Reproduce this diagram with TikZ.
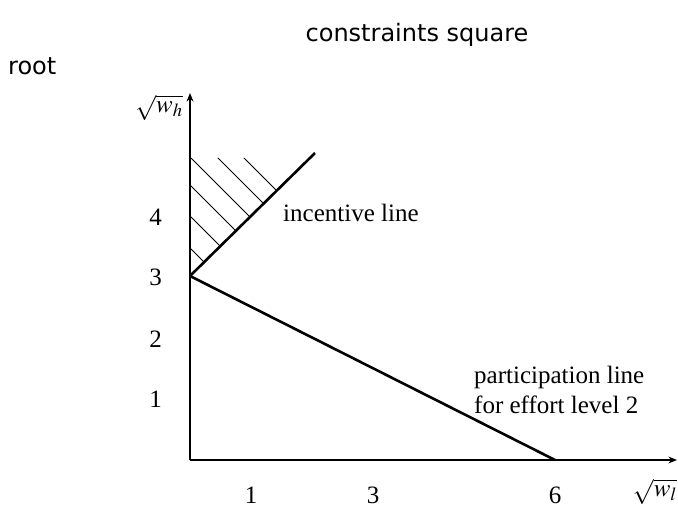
\documentclass[tikz,border=0pt]{standalone}
\usepackage{mathptmx}
\usepackage[no-math]{fontspec}
\setmainfont{Liberation Serif}
\newfontfamily\titlefont{DejaVu Sans}
\usetikzlibrary{arrows.meta}
\tikzset{
  >={Stealth[length=3mm,width=2.4mm]},
  axis/.style={->,line width=1.6pt},
  cline/.style={line width=2.6pt},
  hatch/.style={line width=0.8pt},
  lbl/.style={font=\fontsize{25}{29}\selectfont,inner sep=0pt},
  ttl/.style={font=\titlefont\fontsize{24}{28}\selectfont,inner sep=0pt},
}
\begin{document}
\begin{tikzpicture}[x=1pt,y=-1pt]
  \useasboundingbox (0,0) rectangle (678,508);
  % corner points
  \coordinate (O) at (190,460);
  \coordinate (ytop) at (190,93);
  \coordinate (xend) at (677,460);
  \coordinate (A) at (190,276);
  \coordinate (I) at (315,153);
  \coordinate (P) at (555,460);
  % hatching above the incentive line
  \begin{scope}
    \clip (A) -- (190,158) -- (310,158) -- cycle;
    \foreach \c in {-86,-60,-33,-5,26,58}
      \draw[hatch] (100,100+\c) -- (350,350+\c);
  \end{scope}
  % axes
  \draw[axis] (O) -- (ytop);
  \draw[axis] (O) -- (xend);
  % constraints
  \draw[cline] (A) -- (I);
  \draw[cline] (A) -- (P);
  % labels
  \node[ttl] (title) at (417,35) {constraints square};
  \node[ttl,anchor=west] (root) at (8,66) {root};
  \node[lbl] (wh) at (159,108) {$\sqrt{w_h}$};
  \node[lbl] (wl) at (655,492) {$\sqrt{w_l}$};
  \node[lbl] (y4) at (155.5,217) {4};
  \node[lbl] (y3) at (155.5,277) {3};
  \node[lbl] (y2) at (155.5,339) {2};
  \node[lbl] (y1) at (155.5,399) {1};
  \node[lbl] (x1) at (251,495) {1};
  \node[lbl] (x3) at (373,495) {3};
  \node[lbl] (x6) at (555,495) {6};
  \node[lbl,anchor=base west] (inc) at (283,222) {incentive line};
  \node[lbl,anchor=base west] (part) at (474,383) {participation line};
  \node[lbl,anchor=base west] (eff) at (474,413) {for effort level 2};
\end{tikzpicture}
\end{document}
